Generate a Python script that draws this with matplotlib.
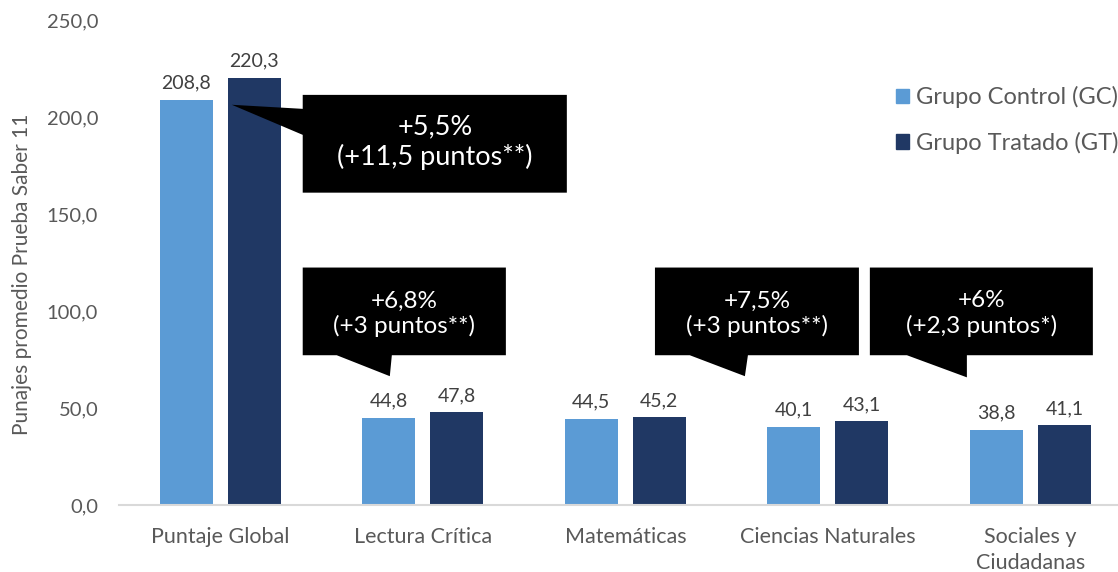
import matplotlib
matplotlib.use("Agg")
import matplotlib.pyplot as plt
from matplotlib.patches import Polygon, Patch
import numpy as np

plt.rcParams['font.family'] = ['Lato', 'DejaVu Sans']

categories = ["Puntaje Global", "Lectura Crítica", "Matemáticas", "Ciencias Naturales", "Sociales y\nCiudadanas"]
gc_values = [208.8, 44.8, 44.5, 40.1, 38.8]
gt_values = [220.3, 47.8, 45.2, 43.1, 41.1]
series_names = ["Grupo Control (GC)", "Grupo Tratado (GT)"]
yticks = [0, 50, 100, 150, 200, 250]
callout_texts = ["+5,5%\n(+11,5 puntos**)", "+6,8%\n(+3 puntos**)", "+7,5%\n(+3 puntos**)", "+6%\n(+2,3 puntos*)"]

C_GC = "#5B9BD5"
C_GT = "#203864"
GRAY = "#595959"

fig = plt.figure(figsize=(11.18, 5.72), dpi=100)
ax = fig.add_axes([119/1118, 1-505/572, 1-119/1118, (505-20)/572])

x = np.arange(len(categories))
w = 0.262
off = 0.168
b1 = ax.bar(x - off, gc_values, w, color=C_GC, label=series_names[0], zorder=2)
b2 = ax.bar(x + off, gt_values, w, color=C_GT, label=series_names[1], zorder=2)

fmt = lambda v: f"{v:.1f}".replace(".", ",")
for bars, vals in ((b1, gc_values), (b2, gt_values)):
    for r, v in zip(bars, vals):
        ax.annotate(fmt(v), (r.get_x() + r.get_width()/2, v), xytext=(0, 6),
                    textcoords="offset points", ha="center", va="bottom",
                    fontsize=14, color="#404040")

ax.set_xlim(-0.5, (1118-220.5)/202.5)
ax.set_ylim(0, 250)
ax.set_yticks(yticks)
ax.set_yticklabels([fmt(v) for v in yticks], fontsize=14.5, color=GRAY)
ax.set_xticks(x)
ax.set_xticklabels(categories, fontsize=15.5, color=GRAY, linespacing=1.35, va="top")
ax.tick_params(axis="both", length=0)
ax.tick_params(axis="x", pad=16)
ax.tick_params(axis="y", pad=15)
for s in ("top", "right", "left"):
    ax.spines[s].set_visible(False)
ax.spines["bottom"].set_color("#D9D9D9")
ax.spines["bottom"].set_linewidth(1.5)
ax.set_ylabel("Punajes promedio Prueba Saber 11", fontsize=15, color=GRAY)
ax.yaxis.set_label_coords(-0.087, 0.475)

# Callouts
def callout_left(x0, x1, y0, y1, blo, bhi, tip):
    pts = [(x0, y1), (x1, y1), (x1, y0), (x0, y0), (x0, blo), tip, (x0, bhi)]
    ax.add_patch(Polygon(pts, closed=True, fc="black", ec="none", zorder=5, clip_on=False))

def callout_bottom(x0, x1, y0, y1, bx0, bx1, tip):
    pts = [(x0, y1), (x1, y1), (x1, y0), (bx1, y0), tip, (bx0, y0), (x0, y0)]
    ax.add_patch(Polygon(pts, closed=True, fc="black", ec="none", zorder=5, clip_on=False))

callout_left(0.407, 1.711, 161.0, 211.4, 190.8, 204.2, (0.057, 206.3))
ax.text(1.059, 187.0, callout_texts[0], ha="center", va="center", color="white",
        fontsize=19.5, linespacing=1.2, zorder=6)

boxes = [((0.407, 1.410), (0.575, 0.847), (0.837, 66.4), 0.909),
         ((2.146, 3.153), (2.318, 2.605), (2.590, 66.4), 2.649),
         ((3.207, 4.308), (3.390, 3.686), (3.686, 65.8), 3.758)]
for (bx, base, tip, tx), t in zip(boxes, callout_texts[1:]):
    callout_bottom(bx[0], bx[1], 77.2, 122.4, base[0], base[1], tip)
    ax.text(tx, 98.5, t, ha="center", va="center", color="white",
            fontsize=17.5, linespacing=1.22, zorder=6)

handles = [Patch(color=C_GC), Patch(color=C_GT)]
fig.legend(handles, series_names, loc="upper left", bbox_to_anchor=(896/1118, 1-86/572),
           frameon=False, fontsize=17, labelcolor=GRAY, handlelength=0.55, handleheight=0.55,
           handletextpad=0.3, labelspacing=1.0, borderaxespad=0, borderpad=0)

fig.savefig("out.png", dpi=100)
